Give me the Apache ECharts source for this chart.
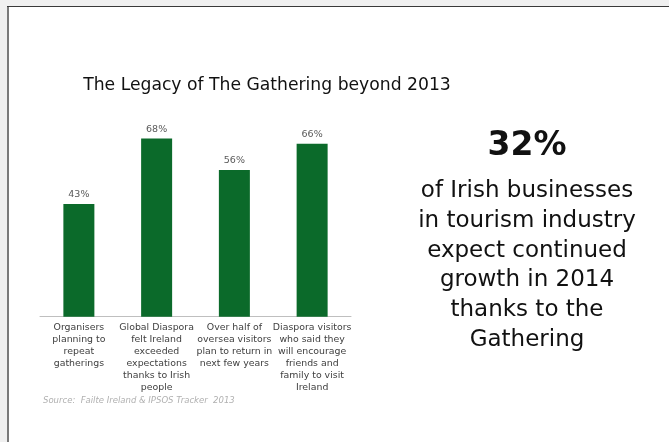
<!DOCTYPE html>
<html>
<head>
<meta charset="utf-8">
<script src="https://cdn.jsdelivr.net/npm/echarts@6/dist/echarts.min.js"></script>
<style>
  html, body { margin: 0; padding: 0; background: #f0f0f0; }
  #chart { width: 669px; height: 442px; }
</style>
</head>
<body>
<div id="chart"></div>
<script>
// Survey results: share of respondents agreeing with each statement
const categories = [
  'Organisers\nplanning to\nrepeat\ngatherings',
  'Global Diaspora\nfelt Ireland\nexceeded\nexpectations\nthanks to Irish\npeople',
  'Over half of\noversea visitors\nplan to return in\nnext few years',
  'Diaspora visitors\nwho said they\nwill encourage\nfriends and\nfamily to visit\nIreland'
];
const values = [43, 68, 56, 66];

// Headline statistic shown beside the chart
const headlineValue = '32%';
const headlineLines = [
  'of Irish businesses',
  'in tourism industry',
  'expect continued',
  'growth in 2014',
  'thanks to the',
  'Gathering'
];

const FONT = '"DejaVu Sans", sans-serif';
const chart = echarts.init(document.getElementById('chart'));

chart.setOption({
  backgroundColor: '#f0f0f0',
  animation: false,
  graphic: [
    // white slide panel with its left and top edges
    { type: 'rect', left: 9, top: 7, shape: { width: 670, height: 440 }, style: { fill: '#ffffff' }, z: -10 },
    { type: 'rect', left: 7, top: 6, shape: { width: 2, height: 440 }, style: { fill: '#7a7a7a' }, z: -9 },
    { type: 'rect', left: 7, top: 6, shape: { width: 670, height: 1 }, style: { fill: '#3a3a3a' }, z: -9 },
    // chart title
    {
      type: 'text', x: 267, y: 85.5, z: 10,
      style: { text: 'The Legacy of The Gathering beyond 2013', font: '17.2px ' + FONT, fill: '#111111', align: 'center', verticalAlign: 'middle' }
    },
    // headline statistic
    {
      type: 'text', x: 527, y: 146.5, z: 10,
      style: { text: headlineValue, font: 'bold 33px ' + FONT, fill: '#111111', align: 'center', verticalAlign: 'middle' }
    },
    {
      type: 'text', x: 527, y: 176.5, z: 10,
      style: {
        text: headlineLines.join('\n'), font: '23px ' + FONT, fill: '#111111',
        align: 'center', verticalAlign: 'top', lineHeight: 29.7
      }
    },
    // source note
    {
      type: 'text', x: 43, y: 401, z: 10,
      style: { text: 'Source:  Failte Ireland & IPSOS Tracker  2013', font: 'italic 8.5px ' + FONT, fill: '#b0b0b0', verticalAlign: 'middle' }
    }
  ],
  grid: { left: 40, width: 311, top: 107, bottom: 125.3 },
  xAxis: {
    type: 'category',
    data: categories,
    axisLine: { lineStyle: { color: '#bfbfbf', width: 1 } },
    axisTick: { show: false },
    axisLabel: {
      interval: 0, margin: 5, fontFamily: FONT, fontSize: 9.4, lineHeight: 11.9,
      color: '#404040', align: 'center'
    }
  },
  yAxis: { type: 'value', min: 0, max: 80, show: false, splitLine: { show: false } },
  series: [{
    type: 'bar',
    data: values,
    barWidth: 31,
    itemStyle: { color: '#0b6a2a' },
    label: {
      show: true, position: 'top', distance: 4,
      formatter: p => p.value + '%',
      fontFamily: FONT, fontSize: 9.5, color: '#595959'
    }
  }]
});
</script>
</body>
</html>
